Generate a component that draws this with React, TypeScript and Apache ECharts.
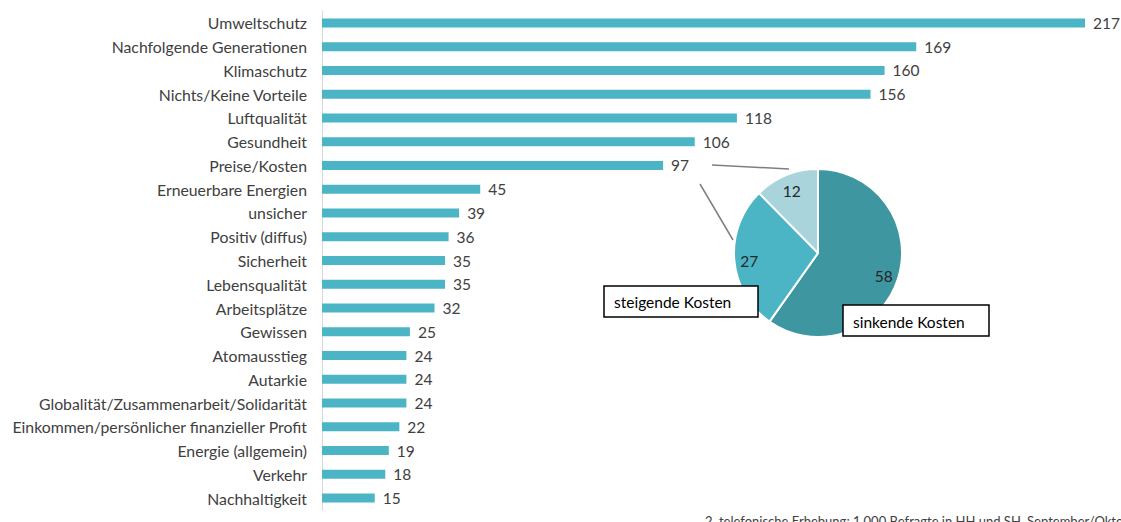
import React, { useEffect, useRef } from "react";
import * as echarts from "echarts";

const categories = [
  "Umweltschutz",
  "Nachfolgende Generationen",
  "Klimaschutz",
  "Nichts/Keine Vorteile",
  "Luftqualität",
  "Gesundheit",
  "Preise/Kosten",
  "Erneuerbare Energien",
  "unsicher",
  "Positiv (diffus)",
  "Sicherheit",
  "Lebensqualität",
  "Arbeitsplätze",
  "Gewissen",
  "Atomausstieg",
  "Autarkie",
  "Globalität/Zusammenarbeit/Solidarität",
  "Einkommen/persönlicher finanzieller Profit",
  "Energie (allgemein)",
  "Verkehr",
  "Nachhaltigkeit",
];
const values = [217, 169, 160, 156, 118, 106, 97, 45, 39, 36, 35, 35, 32, 25, 24, 24, 24, 22, 19, 18, 15];

const pieNames = ["sinkende Kosten", "steigende Kosten", "sonstige"];
const pieValues = [58, 27, 12];
const pieColors = ["#3e96a0", "#4bb5c6", "#a9d4db"];

const footnote = "2. telefonische Erhebung: 1.000 Befragte in HH und SH, September/Oktober";

const FONT = "Lato";

export default function App() {
  const ref = useRef<HTMLDivElement>(null);
  useEffect(() => {
    if (!ref.current) return;
    const chart = echarts.init(ref.current, null, { renderer: "svg" });
    const pieData = pieNames.map((n, i) => ({ name: n, value: pieValues[i], itemStyle: { color: pieColors[i] } }));
    chart.setOption({
      animation: false,
      textStyle: { fontFamily: FONT },
      grid: { left: 322, right: 36, top: 11, bottom: 12, containLabel: false },
      xAxis: { type: "value", min: 0, max: 217, show: false },
      yAxis: {
        type: "category",
        data: categories,
        inverse: true,
        axisLine: { show: true, lineStyle: { color: "#d9d9d9", width: 1 } },
        axisTick: { show: false },
        axisLabel: { color: "#404040", fontSize: 15.8, fontFamily: FONT, margin: 15 },
      },
      series: [
        {
          type: "bar",
          data: values,
          barWidth: 9,
          itemStyle: { color: "#4bb5c6" },
          label: { show: true, position: "right", distance: 8, color: "#404040", fontSize: 15.5, fontFamily: FONT },
        },
        {
          type: "pie",
          center: [818, 253],
          radius: [0, 84],
          startAngle: 90,
          clockwise: true,
          data: pieData,
          itemStyle: { borderColor: "#ffffff", borderWidth: 2 },
          label: { show: false },
          labelLine: { show: false },
          silent: true,
        },
        {
          type: "pie",
          center: [818, 255],
          radius: [48, 84],
          startAngle: 90,
          clockwise: true,
          data: pieData.map((d) => ({ ...d, itemStyle: { color: "rgba(255,255,255,0)" } })),
          label: { show: true, position: "inside", formatter: "{c}", color: "#262626", fontSize: 15.5, fontFamily: FONT },
          labelLine: { show: false },
          silent: true,
          z: 3,
        },
      ],
      graphic: [
        { type: "line", shape: { x1: 712, y1: 165, x2: 789, y2: 169 }, style: { stroke: "#7f7f7f", lineWidth: 1.5 } },
        { type: "line", shape: { x1: 700, y1: 184, x2: 733, y2: 240 }, style: { stroke: "#7f7f7f", lineWidth: 1.5 } },
        {
          type: "rect",
          shape: { x: 604, y: 286, width: 154, height: 31 },
          style: { fill: "#ffffff", stroke: "#000000", lineWidth: 1.5 },
          z: 10,
        },
        {
          type: "text",
          x: 614,
          y: 302,
          style: { text: pieNames[1], fill: "#000000", font: `15.5px '${FONT}'`, textVerticalAlign: "middle" },
          z: 11,
        },
        {
          type: "rect",
          shape: { x: 843, y: 305, width: 146, height: 31 },
          style: { fill: "#ffffff", stroke: "#000000", lineWidth: 1.5 },
          z: 10,
        },
        {
          type: "text",
          x: 853,
          y: 322,
          style: { text: pieNames[0], fill: "#000000", font: `15.5px '${FONT}'`, textVerticalAlign: "middle" },
          z: 11,
        },
        {
          type: "text",
          x: 705,
          y: 514,
          style: { text: footnote, fill: "#404040", font: `13px '${FONT}'` },
        },
      ],
    });
    return () => chart.dispose();
  }, []);
  return <div ref={ref} style={{ position: "fixed", left: 0, top: 0, width: 1121, height: 522, background: "#fff" }} />;
}
